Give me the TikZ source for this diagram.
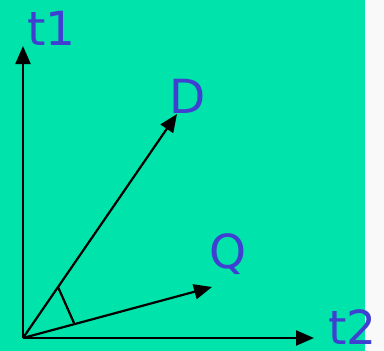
\documentclass[tikz,border=0pt]{standalone}
\usepackage{fontspec}
\setmainfont{DejaVu Sans}
\usetikzlibrary{arrows.meta}
\definecolor{bggreen}{HTML}{00E3AA}
\definecolor{lblue}{HTML}{3F3FD2}
\tikzset{
  vec/.style={line width=2.2pt, -{Triangle[length=18pt,width=15pt]}},
  lbl/.style={text=lblue, font=\fontsize{47}{47}\selectfont, inner sep=0pt, anchor=base west}
}
\begin{document}
\begin{tikzpicture}[x=1pt,y=-1pt]
\useasboundingbox (0,0) rectangle (384,351);
\fill[white!95!gray] (0,0) rectangle (384,351);
\fill[bggreen] (0,0) rectangle (365,351);
\coordinate (O) at (23,338);
\coordinate (T1) at (23,46);
\coordinate (T2) at (314,338);
\coordinate (D) at (177,114);
\coordinate (Q) at (212,287);
\coordinate (A1) at (58,287);
\coordinate (A2) at (74,323);
\draw[vec] (O) -- (T1);
\draw[vec] (O) -- (T2);
\draw[vec] (O) -- (D);
\draw[vec] (O) -- (Q);
\draw[line width=2.2pt] (A1) -- (A2);
\node[lbl] (lt1) at (27,45) {t1};
\node[lbl] (lD) at (169,113) {D};
\node[lbl] (lQ) at (209,268) {Q};
\node[lbl] (lt2) at (328,344) {t2};
\end{tikzpicture}
\end{document}
